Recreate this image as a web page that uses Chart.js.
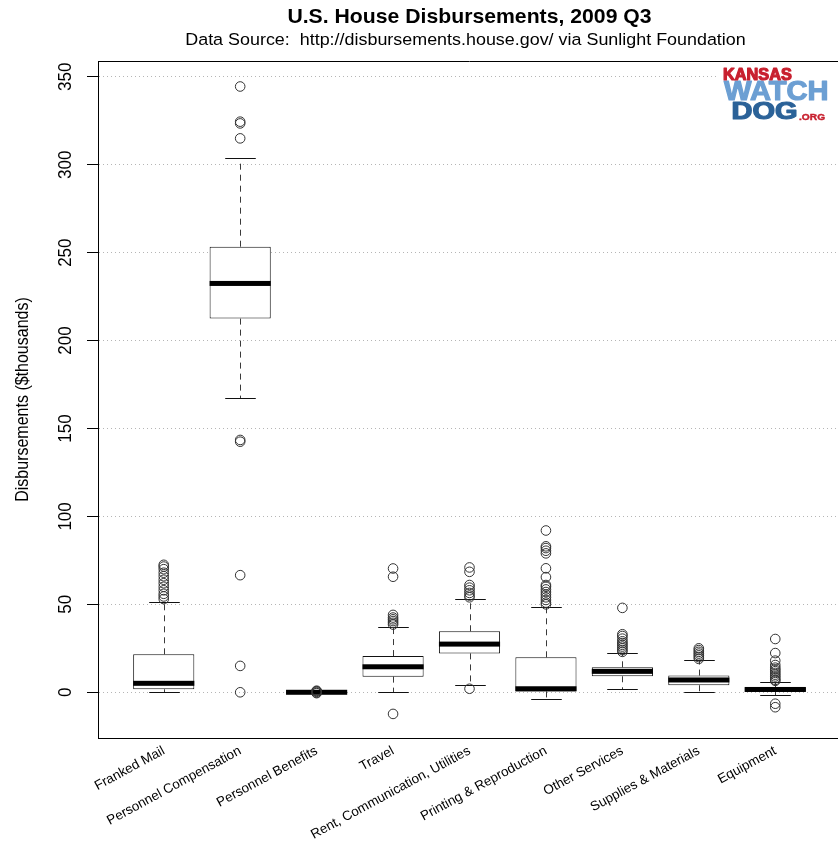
<!DOCTYPE html>
<html>
<head>
<meta charset="utf-8">
<title>U.S. House Disbursements, 2009 Q3</title>
<script src="https://cdn.jsdelivr.net/npm/chart.js@4.4.0/dist/chart.umd.min.js"></script>
<style>
  html, body { margin: 0; padding: 0; background: #fff; overflow: hidden; }
  #wrap { position: relative; width: 842px; height: 845px; }
  #chart { display: block; }
</style>
</head>
<body>
<div id="wrap"><canvas id="chart" width="842" height="845" style="width:842px;height:845px"></canvas></div>
<script>
// Box plot summary per spending category ($ thousands)
const categories = [
  "Franked Mail",
  "Personnel Compensation",
  "Personnel Benefits",
  "Travel",
  "Rent, Communication, Utilities",
  "Printing & Reproduction",
  "Other Services",
  "Supplies & Materials",
  "Equipment",
];
const whiskerLow = [0, 167.6, -0.3, 0, 4.0, -4.0, 1.9, 0, -1.3];
const q1 = [1.7, 212.5, -0.3, 8.9, 22.1, 0.5, 9.1, 4.0, 0.3];
const median = [5.1, 232.5, 0, 14.5, 27.4, 2.0, 11.9, 7.0, 1.6];
const q3 = [21.6, 253.4, 0.3, 20.6, 34.7, 19.9, 14.2, 9.5, 2.9];
const whiskerHigh = [51.1, 303.7, 0.3, 36.9, 52.8, 48.3, 22.1, 18.2, 5.7];
const outliers = [
  [53, 54.5, 56, 58, 60, 62, 64, 66, 68, 70, 71.5, 72.5],
  [344.5, 324.5, 323.5, 315, 143.5, 142.5, 66.6, 15, 0],
  [0.9, 0.6, 0.3, -0.2, -0.5],
  [70.4, 65.7, 44, 42.5, 41.5, 40.5, 39.5, 38.5, -12.3],
  [71, 68.5, 61, 59.5, 58, 56.5, 55, 54, 2],
  [92, 83, 82, 80.5, 79, 70.5, 65.5, 61, 60, 58.5, 57, 55.5, 54, 52.5, 51, 50],
  [48, 33, 32, 30.5, 29, 28, 27, 26, 25, 24, 23],
  [19, 20, 21, 22, 23, 24, 25],
  [30.3, 22.3, 18, 15.5, 14, 13, 12, 11, 10, 9, 8, 7, 6.5, -6.5, -8.5],
];
const yTicks = [0, 50, 100, 150, 200, 250, 300, 350];
const yMin = -26;
const yMax = 359;
const xMin = 0.14;
const xMax = 9.86;

const TITLE = "U.S. House Disbursements, 2009 Q3";
const SUBTITLE = "Data Source:  http://disbursements.house.gov/ via Sunlight Foundation";
const Y_TITLE = "Disbursements ($thousands)";
const FONT = "'Liberation Sans', Arial, Helvetica, sans-serif";
const STRETCH = 1.1; // the reference text is a little wider than tall

Chart.defaults.font.family = FONT;
Chart.defaults.color = "#000";

const boxData = categories.map((c, i) => ({ x: i + 1, y: [q1[i], q3[i]] }));
const outlierData = [];
outliers.forEach((list, i) => list.forEach((v) => outlierData.push({ x: i + 1, y: v })));

function stretchedText(ctx, text, x, y, rotate) {
  ctx.save();
  ctx.translate(x, y);
  ctx.scale(STRETCH, 1);
  if (rotate) ctx.rotate(-Math.PI / 2);
  ctx.fillText(text, 0, 0);
  ctx.restore();
}

function logoText(ctx, text, x, y, size, sx, color) {
  ctx.save();
  ctx.translate(x, y);
  ctx.scale(sx, 1);
  ctx.font = `bold ${size}px ${FONT}`;
  ctx.fillStyle = color;
  ctx.strokeStyle = color;
  ctx.lineWidth = size > 12 ? 1.2 : 0.4;
  ctx.lineJoin = "round";
  ctx.fillText(text, 0, 0);
  ctx.strokeText(text, 0, 0);
  ctx.restore();
}

const boxPlot = {
  id: "boxPlot",
  beforeDatasetsDraw(chart) {
    const { ctx } = chart;
    const y = chart.scales.y;
    const meta = chart.getDatasetMeta(0);
    ctx.save();
    ctx.lineWidth = 1;
    meta.data.forEach((bar, i) => {
      const x = Math.round(bar.x) + 0.5;
      const staple = bar.width / 4;
      const yLo = Math.round(y.getPixelForValue(whiskerLow[i])) + 0.5;
      const yHi = Math.round(y.getPixelForValue(whiskerHigh[i])) + 0.5;
      ctx.strokeStyle = "#3a3a3a";
      ctx.setLineDash([6, 5]);
      ctx.beginPath();
      ctx.moveTo(x, y.getPixelForValue(q3[i]));
      ctx.lineTo(x, yHi);
      ctx.moveTo(x, y.getPixelForValue(q1[i]));
      ctx.lineTo(x, yLo);
      ctx.stroke();
      ctx.setLineDash([]);
      ctx.strokeStyle = "#111";
      ctx.beginPath();
      ctx.moveTo(x - staple, yHi);
      ctx.lineTo(x + staple, yHi);
      ctx.moveTo(x - staple, yLo);
      ctx.lineTo(x + staple, yLo);
      ctx.stroke();
    });
    ctx.restore();
  },
  afterDatasetDraw(chart, args) {
    if (args.index !== 0) return;
    const { ctx } = chart;
    const y = chart.scales.y;
    ctx.save();
    ctx.fillStyle = "#000";
    args.meta.data.forEach((bar, i) => {
      const half = bar.width / 2;
      const yMed = y.getPixelForValue(median[i]);
      ctx.fillRect(bar.x - half, yMed - 2.5, half * 2, 5);
    });
    ctx.restore();
  },
  afterDraw(chart) {
    const { ctx, chartArea } = chart;
    const y = chart.scales.y;
    ctx.save();

    // Kansas Watchdog logo (sits over the grid)
    ctx.fillStyle = "#fff";
    ctx.fillRect(716, 63, 122, 62);
    ctx.textAlign = "left";
    ctx.textBaseline = "alphabetic";
    logoText(ctx, "WATCH", 724, 100, 28, 1.04, "#6c9fd3");
    logoText(ctx, "DOG", 731.5, 118.5, 23, 1.26, "#2b6298");
    logoText(ctx, "KANSAS", 723, 80, 16.3, 1.0, "#c8202f");
    logoText(ctx, ".ORG", 799, 120, 8.5, 1.2, "#c8202f");

    // top and right of the frame (left / bottom come from the axes)
    ctx.strokeStyle = "#000";
    ctx.lineWidth = 1;
    ctx.beginPath();
    ctx.moveTo(chartArea.left, Math.round(chartArea.top) + 0.5);
    ctx.lineTo(chartArea.right, Math.round(chartArea.top) + 0.5);
    ctx.lineTo(chartArea.right, chartArea.bottom);
    ctx.stroke();

    // y tick labels, parallel to the axis
    ctx.fillStyle = "#000";
    ctx.textAlign = "center";
    ctx.textBaseline = "middle";
    ctx.font = `17px ${FONT}`;
    y.ticks.forEach((t) => {
      stretchedText(ctx, String(t.value), 65.5, y.getPixelForValue(t.value), true);
    });
    ctx.font = `16px ${FONT}`;
    stretchedText(ctx, Y_TITLE, 23, (chartArea.top + chartArea.bottom) / 2, true);

    // titles, centred on the plot area
    const cx = (chartArea.left + chartArea.right) / 2;
    ctx.textBaseline = "alphabetic";
    ctx.font = `bold 19.3px ${FONT}`;
    stretchedText(ctx, TITLE, cx, 23, false);
    ctx.font = `16.3px ${FONT}`;
    stretchedText(ctx, SUBTITLE, cx - 4, 45, false);

    ctx.restore();
  },
};

new Chart(document.getElementById("chart"), {
  type: "bar",
  data: {
    datasets: [
      {
        type: "bar",
        data: boxData,
        backgroundColor: "#fff",
        borderColor: "#111",
        borderWidth: 1,
        borderSkipped: false,
        categoryPercentage: 1,
        barPercentage: 0.8,
        order: 1,
      },
      {
        type: "scatter",
        data: outlierData,
        pointStyle: "circle",
        pointRadius: 4.8,
        pointHoverRadius: 4.8,
        pointBorderWidth: 1,
        pointBorderColor: "#333",
        pointBackgroundColor: "rgba(0,0,0,0)",
        order: 0,
      },
    ],
  },
  options: {
    responsive: false,
    animation: false,
    devicePixelRatio: 1,
    events: [],
    layout: { autoPadding: false, padding: { top: 61, right: 1, left: 0, bottom: 0 } },
    plugins: {
      legend: { display: false },
      tooltip: { enabled: false },
      title: { display: false },
    },
    scales: {
      x: {
        type: "linear",
        min: xMin,
        max: xMax,
        offset: false,
        grid: { display: false, offset: false },
        border: { display: true, color: "#000", width: 1 },
        afterBuildTicks: (scale) => {
          scale.ticks = categories.map((c, i) => ({ value: i + 1 }));
        },
        afterFit: (scale) => {
          scale.height = 107;
          scale.paddingLeft = 0;
          scale.paddingRight = 0;
        },
        ticks: {
          autoSkip: false,
          minRotation: 28.5,
          maxRotation: 28.5,
          padding: -3,
          color: "#000",
          font: { size: 13.4 },
          callback: (v) => categories[Math.round(v) - 1] || "",
        },
      },
      y: {
        type: "linear",
        min: yMin,
        max: yMax,
        afterBuildTicks: (scale) => {
          scale.ticks = yTicks.map((v) => ({ value: v }));
        },
        afterFit: (scale) => {
          scale.width = 98;
        },
        ticks: { display: false },
        grid: {
          color: "#b5b5b5",
          lineWidth: 1,
          drawTicks: true,
          tickLength: 11,
          tickColor: "#000",
          tickWidth: 1,
          tickBorderDash: [],
        },
        border: { display: true, color: "#000", width: 1, dash: [1, 3] },
      },
    },
  },
  plugins: [boxPlot],
});
</script>
</body>
</html>
